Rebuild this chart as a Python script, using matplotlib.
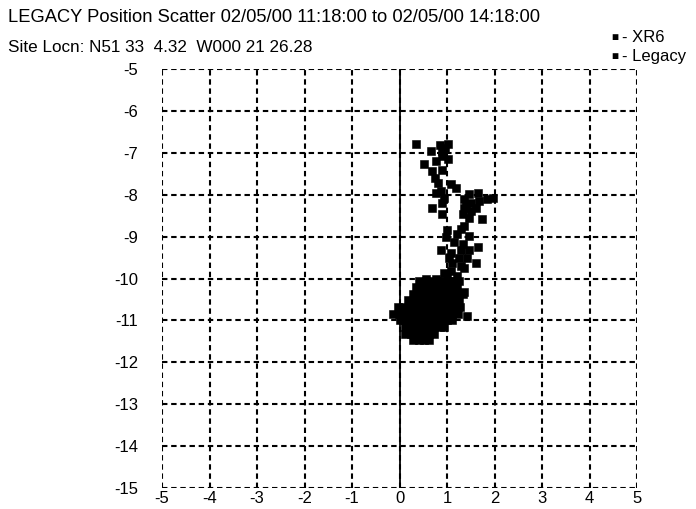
import numpy as np
import matplotlib.pyplot as plt

# Scatter points (east offset, north offset)
trail_x = [0.35, 0.85, 0.95, 1.03, 0.90, 0.66, 0.90, 0.77, 1.03, 0.52, 0.69, 0.90,
           0.75, 0.81, 1.09, 1.19, 0.88, 0.77, 0.94, 0.90, 1.47, 1.66, 1.36, 1.51,
           1.68, 1.85, 1.96, 0.69, 1.40, 1.62, 0.90, 1.36, 1.33, 1.51, 1.74, 1.47,
           1.36, 1.30, 1.00, 1.22, 1.47, 0.98, 1.15, 1.33, 1.66, 0.88, 1.09, 1.30,
           1.47, 1.05, 1.26, 1.43, 1.62, 1.11, 1.30, 1.09, 1.36, 0.94, 1.00, 1.22,
           0.56, 0.77, 1.36, 1.41, 1.34]
trail_y = [-6.79, -6.82, -6.88, -6.80, -6.95, -6.95, -7.07, -7.19, -7.14, -7.26, -7.43, -7.40,
           -7.60, -7.71, -7.74, -7.83, -7.90, -7.95, -8.07, -8.19, -7.98, -7.95, -8.10, -8.19,
           -8.14, -8.10, -8.07, -8.31, -8.26, -8.31, -8.45, -8.31, -8.45, -8.38, -8.57, -8.55,
           -8.74, -8.81, -8.83, -8.93, -8.98, -9.00, -9.14, -9.17, -9.24, -9.31, -9.38, -9.33,
           -9.31, -9.50, -9.50, -9.52, -9.64, -9.64, -9.69, -9.81, -9.76, -9.86, -9.98, -9.93,
           -10.00, -10.00, -10.33, -10.90, -10.36]

# dense cluster, row by row
blob_rows = {
    -10.05: [0.42, 0.55, 0.68, 0.80, 0.93, 1.05, 1.17, 1.25],
    -10.20: [0.35, 0.47, 0.60, 0.72, 0.85, 0.97, 1.10, 1.21],
    -10.36: [0.28, 0.40, 0.53, 0.65, 0.78, 0.90, 1.03, 1.15, 1.22],
    -10.52: [0.18, 0.30, 0.43, 0.55, 0.68, 0.80, 0.93, 1.05, 1.17, 1.26],
    -10.68: [-0.04, 0.08, 0.20, 0.33, 0.45, 0.58, 0.70, 0.83, 0.95, 1.08, 1.20, 1.28],
    -10.84: [-0.14, -0.02, 0.10, 0.23, 0.35, 0.48, 0.60, 0.73, 0.85, 0.98, 1.10, 1.24],
    -11.00: [0.00, 0.12, 0.25, 0.37, 0.50, 0.62, 0.75, 0.87, 1.00, 1.10],
    -11.16: [0.11, 0.23, 0.36, 0.48, 0.61, 0.73, 0.85, 0.93],
    -11.32: [0.11, 0.24, 0.36, 0.49, 0.61, 0.72],
    -11.46: [0.28, 0.40, 0.52, 0.63],
}

x_ticks = [-5, -4, -3, -2, -1, 0, 1, 2, 3, 4, 5]
y_ticks = [-5, -6, -7, -8, -9, -10, -11, -12, -13, -14, -15]
series_names = ["XR6", "Legacy"]

title1 = "LEGACY Position Scatter 02/05/00 11:18:00 to 02/05/00 14:18:00"
title2 = "Site Locn: N51 33  4.32  W000 21 26.28"

plt.rcParams['font.family'] = ['Liberation Sans', 'DejaVu Sans']
plt.rcParams['axes.unicode_minus'] = False

fig = plt.figure(figsize=(6.96, 5.09), dpi=100)
ax = fig.add_axes([0.2328, 0.0413, 0.6825, 0.823])

bx = []
by = []
for yy, xs in blob_rows.items():
    bx.extend(xs)
    by.extend([yy] * len(xs))

ax.plot(trail_x + bx, trail_y + by, 's', color='black', markersize=5.3,
        markeredgewidth=0.4, zorder=3)

ax.set_xlim(-5, 5)
ax.set_ylim(-15, -5)
ax.set_xticks(x_ticks)
ax.set_yticks(y_ticks)
ax.grid(True, color='black', linestyle=(0, (2.6, 1.8)), linewidth=1.5)
ax.axvline(0, color='black', linewidth=1.3, zorder=2)
for s in ax.spines.values():
    s.set_visible(False)
ax.tick_params(length=0, labelsize=12)
ax.tick_params(axis='x', pad=2)
ax.tick_params(axis='y', pad=17)

fig.text(8 / 696, 1 - 18 / 509, title1, fontsize=13.2, va='center', ha='left')
fig.text(8 / 696, 1 - 47 / 509, title2, fontsize=12.3, va='center', ha='left')

# legend
for i, name in enumerate(series_names):
    yy = 1 - (38 + 19 * i) / 509
    fig.text(611 / 696, yy, "\u25a0", fontsize=8.5, va='center', ha='left')
    fig.text(622 / 696, yy, "- " + name, fontsize=12, va='center', ha='left')

fig.savefig("out.png", dpi=100)
